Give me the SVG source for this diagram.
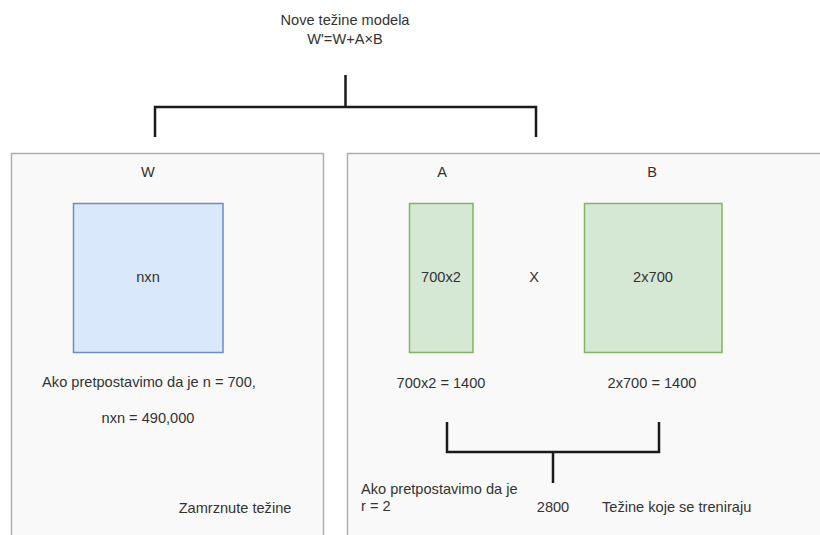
<svg xmlns="http://www.w3.org/2000/svg" width="820" height="535" viewBox="0 0 820 535">
<style>
text{font-family:"Liberation Sans",Arial,Helvetica,sans-serif;font-size:14.6px;fill:#333;}
.c{text-anchor:middle;}
.panel{fill:#f9f9f9;stroke:#b0b0b0;stroke-width:1.5;}
.blue{fill:#dae8fc;stroke:#6c8ebf;stroke-width:1.5;}
.green{fill:#d5e8d4;stroke:#82b366;stroke-width:1.5;}
.br{fill:none;stroke:#1a1a1a;stroke-width:2.5;}
</style>
<rect width="820" height="535" fill="#ffffff"/>
<g id="title">
<text class="c" x="345" y="25">Nove težine modela</text>
<text class="c" x="345" y="44">W'=W+A×B</text>
</g>
<g id="panel-frozen">
<rect class="panel" x="11.5" y="153.5" width="312" height="400"/>
<text class="c" x="148" y="177">W</text>
<text class="c" x="149" y="387">Ako pretpostavimo da je n = 700,</text>
<text class="c" x="148" y="423">nxn = 490,000</text>
<text class="c" x="235" y="513">Zamrznute težine</text>
</g>
<g id="panel-trained">
<rect class="panel" x="347.5" y="153.5" width="500" height="400"/>
<text class="c" x="442" y="177">A</text>
<text class="c" x="652" y="177">B</text>
<text class="c" x="534" y="282">X</text>
<text class="c" x="441" y="388">700x2 = 1400</text>
<text class="c" x="652" y="388">2x700 = 1400</text>
<text x="361" y="494">Ako pretpostavimo da je</text>
<text x="361" y="511">r = 2</text>
<text class="c" x="553" y="512">2800</text>
<text x="602" y="512">Težine koje se treniraju</text>
</g>
<g id="W">
<rect class="blue" x="73.5" y="203.5" width="149.5" height="149"/>
<text class="c" x="148" y="282">nxn</text>
</g>
<g id="A">
<rect class="green" x="409.5" y="203.5" width="63.5" height="149"/>
<text class="c" x="441" y="282">700x2</text>
</g>
<g id="B">
<rect class="green" x="584.5" y="203.5" width="137.5" height="149"/>
<text class="c" x="653" y="282">2x700</text>
</g>
<g id="connectors">
<path class="br" d="M345.5,75 V107 M155,137 V107 H536 V137"/>
<path class="br" d="M447,422 V452 H659 V422 M553,452 V483"/>
</g>
</svg>
